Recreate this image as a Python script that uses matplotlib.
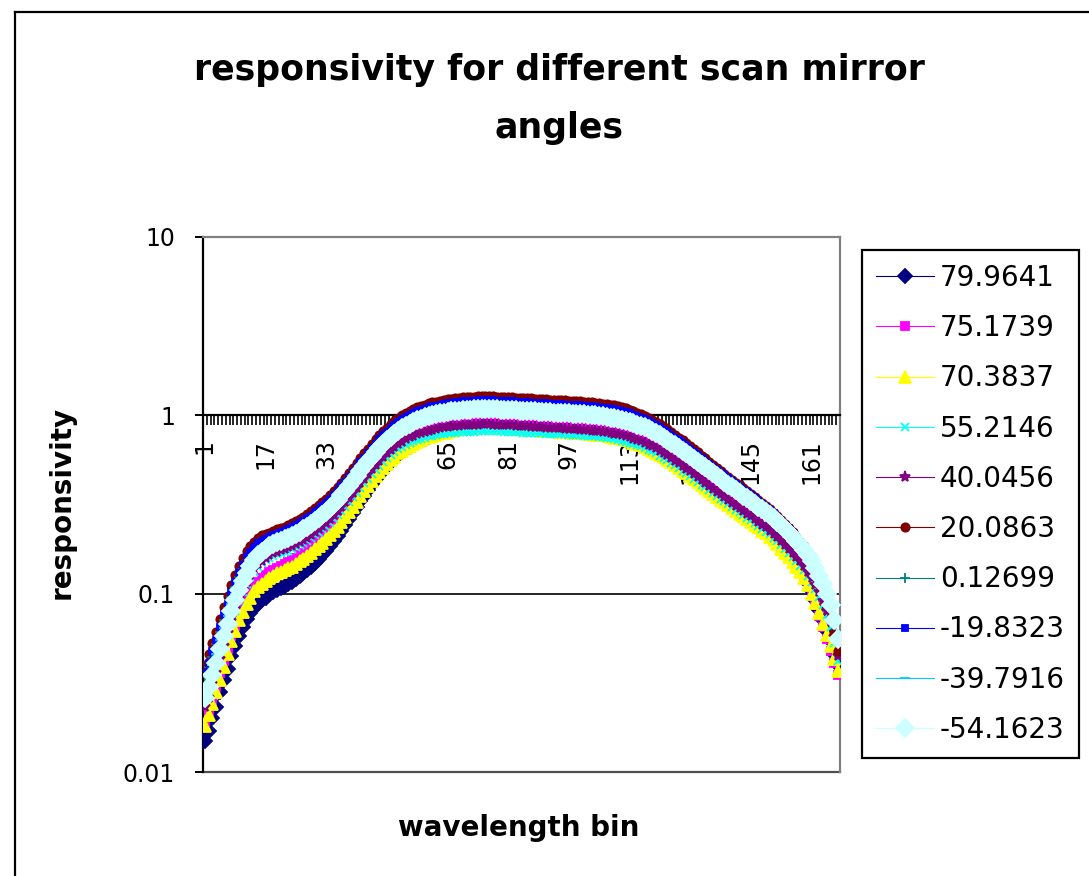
import numpy as np
import matplotlib
matplotlib.use('Agg')
import matplotlib.pyplot as plt
from matplotlib.lines import Line2D
from matplotlib.ticker import FixedLocator, NullLocator

# wavelength bins 1..168
bins = np.arange(1, 169)
tick_bins = [1, 17, 33, 49, 65, 81, 97, 113, 129, 145, 161]
ytick_vals = [0.01, 0.1, 1, 10]
ytick_labels = ['0.01', '0.1', '1', '10']

angle_labels = ['79.9641', '75.1739', '70.3837', '55.2146', '40.0456',
                '20.0863', '0.12699', '-19.8323', '-39.7916', '-54.1623']

# responsivity per scan mirror angle
resp_79 = [
    0.015, 0.017, 0.020, 0.023, 0.028, 0.033, 0.038, 0.045, 0.051, 0.058, 0.065, 0.072, 0.078, 0.083, 0.088, 0.092, 0.095, 0.099, 0.102, 0.105,
    0.108, 0.111, 0.114, 0.117, 0.121, 0.125, 0.130, 0.135, 0.141, 0.148, 0.156, 0.164, 0.174, 0.185, 0.197, 0.211, 0.226, 0.243, 0.262, 0.282,
    0.305, 0.329, 0.354, 0.381, 0.410, 0.437, 0.464, 0.492, 0.520, 0.547, 0.573, 0.599, 0.623, 0.646, 0.667, 0.687, 0.707, 0.724, 0.741, 0.757,
    0.771, 0.785, 0.798, 0.811, 0.822, 0.832, 0.843, 0.852, 0.862, 0.869, 0.872, 0.875, 0.875, 0.877, 0.878, 0.877, 0.874, 0.873, 0.871, 0.869,
    0.865, 0.863, 0.860, 0.858, 0.854, 0.852, 0.850, 0.847, 0.844, 0.841, 0.839, 0.836, 0.833, 0.831, 0.828, 0.826, 0.822, 0.820, 0.817, 0.815,
    0.811, 0.808, 0.804, 0.800, 0.795, 0.791, 0.785, 0.779, 0.770, 0.762, 0.753, 0.743, 0.732, 0.721, 0.708, 0.695, 0.681, 0.666, 0.651, 0.632,
    0.614, 0.596, 0.577, 0.558, 0.540, 0.521, 0.503, 0.485, 0.467, 0.450, 0.433, 0.417, 0.402, 0.387, 0.372, 0.359, 0.346, 0.333, 0.321, 0.310,
    0.299, 0.289, 0.278, 0.269, 0.259, 0.249, 0.241, 0.232, 0.223, 0.215, 0.204, 0.194, 0.184, 0.174, 0.164, 0.155, 0.145, 0.136, 0.127, 0.115,
    0.103, 0.092, 0.081, 0.071, 0.062, 0.054, 0.046, 0.040]
resp_75 = [
    0.019, 0.022, 0.025, 0.030, 0.036, 0.042, 0.049, 0.058, 0.066, 0.075, 0.085, 0.094, 0.102, 0.110, 0.117, 0.122, 0.127, 0.132, 0.136, 0.140,
    0.143, 0.147, 0.150, 0.154, 0.159, 0.164, 0.170, 0.176, 0.183, 0.192, 0.200, 0.209, 0.219, 0.231, 0.244, 0.259, 0.276, 0.294, 0.314, 0.336,
    0.359, 0.384, 0.411, 0.439, 0.468, 0.498, 0.530, 0.561, 0.592, 0.622, 0.652, 0.681, 0.707, 0.733, 0.757, 0.779, 0.801, 0.820, 0.839, 0.856,
    0.871, 0.886, 0.900, 0.914, 0.926, 0.937, 0.949, 0.959, 0.969, 0.976, 0.979, 0.980, 0.980, 0.981, 0.981, 0.979, 0.975, 0.972, 0.969, 0.965,
    0.961, 0.957, 0.953, 0.949, 0.944, 0.941, 0.937, 0.933, 0.929, 0.925, 0.921, 0.917, 0.913, 0.909, 0.905, 0.902, 0.897, 0.893, 0.890, 0.886,
    0.881, 0.876, 0.872, 0.866, 0.860, 0.854, 0.847, 0.839, 0.829, 0.820, 0.809, 0.797, 0.785, 0.771, 0.757, 0.742, 0.727, 0.710, 0.693, 0.672,
    0.652, 0.632, 0.611, 0.591, 0.571, 0.550, 0.530, 0.511, 0.492, 0.473, 0.455, 0.437, 0.421, 0.405, 0.389, 0.374, 0.361, 0.347, 0.334, 0.322,
    0.310, 0.299, 0.288, 0.277, 0.267, 0.257, 0.248, 0.238, 0.229, 0.220, 0.208, 0.197, 0.186, 0.175, 0.164, 0.153, 0.143, 0.133, 0.123, 0.110,
    0.098, 0.086, 0.075, 0.065, 0.056, 0.048, 0.041, 0.035]
resp_70 = [
    0.018, 0.021, 0.024, 0.028, 0.033, 0.039, 0.046, 0.054, 0.062, 0.071, 0.079, 0.088, 0.095, 0.103, 0.109, 0.114, 0.118, 0.123, 0.126, 0.130,
    0.133, 0.136, 0.139, 0.142, 0.147, 0.152, 0.157, 0.162, 0.169, 0.177, 0.184, 0.193, 0.202, 0.212, 0.224, 0.238, 0.253, 0.270, 0.287, 0.307,
    0.328, 0.351, 0.376, 0.401, 0.427, 0.454, 0.481, 0.509, 0.536, 0.562, 0.587, 0.611, 0.634, 0.656, 0.676, 0.695, 0.712, 0.728, 0.742, 0.757,
    0.769, 0.780, 0.792, 0.801, 0.811, 0.820, 0.827, 0.835, 0.841, 0.848, 0.851, 0.853, 0.854, 0.855, 0.856, 0.855, 0.853, 0.851, 0.849, 0.847,
    0.844, 0.841, 0.839, 0.837, 0.833, 0.831, 0.828, 0.826, 0.823, 0.820, 0.818, 0.816, 0.812, 0.810, 0.808, 0.805, 0.802, 0.799, 0.797, 0.795,
    0.791, 0.787, 0.784, 0.780, 0.776, 0.771, 0.765, 0.759, 0.751, 0.743, 0.734, 0.724, 0.714, 0.703, 0.690, 0.678, 0.664, 0.650, 0.634, 0.616,
    0.599, 0.581, 0.562, 0.544, 0.526, 0.508, 0.490, 0.473, 0.455, 0.439, 0.422, 0.407, 0.392, 0.377, 0.363, 0.350, 0.337, 0.325, 0.313, 0.302,
    0.291, 0.281, 0.271, 0.262, 0.252, 0.243, 0.235, 0.226, 0.218, 0.209, 0.199, 0.189, 0.179, 0.169, 0.160, 0.150, 0.141, 0.132, 0.123, 0.112,
    0.100, 0.089, 0.078, 0.068, 0.059, 0.051, 0.043, 0.037]
resp_55 = [
    0.023, 0.026, 0.031, 0.036, 0.043, 0.051, 0.059, 0.070, 0.080, 0.091, 0.102, 0.113, 0.124, 0.133, 0.142, 0.148, 0.154, 0.159, 0.163, 0.166,
    0.169, 0.172, 0.174, 0.177, 0.182, 0.187, 0.192, 0.197, 0.204, 0.212, 0.220, 0.229, 0.238, 0.249, 0.261, 0.275, 0.291, 0.308, 0.327, 0.347,
    0.369, 0.392, 0.416, 0.442, 0.468, 0.495, 0.521, 0.548, 0.573, 0.598, 0.622, 0.644, 0.664, 0.683, 0.700, 0.715, 0.729, 0.741, 0.751, 0.761,
    0.769, 0.776, 0.782, 0.788, 0.793, 0.797, 0.800, 0.802, 0.804, 0.805, 0.808, 0.811, 0.813, 0.815, 0.816, 0.815, 0.815, 0.813, 0.812, 0.811,
    0.808, 0.807, 0.805, 0.803, 0.801, 0.799, 0.797, 0.796, 0.793, 0.792, 0.790, 0.788, 0.786, 0.784, 0.782, 0.781, 0.778, 0.777, 0.775, 0.772,
    0.770, 0.767, 0.764, 0.761, 0.758, 0.754, 0.749, 0.743, 0.737, 0.729, 0.721, 0.712, 0.702, 0.693, 0.681, 0.669, 0.657, 0.643, 0.628, 0.611,
    0.594, 0.578, 0.560, 0.542, 0.525, 0.507, 0.490, 0.473, 0.456, 0.441, 0.424, 0.409, 0.395, 0.380, 0.366, 0.353, 0.341, 0.329, 0.317, 0.307,
    0.296, 0.286, 0.276, 0.267, 0.258, 0.248, 0.240, 0.231, 0.223, 0.215, 0.205, 0.197, 0.188, 0.179, 0.170, 0.161, 0.152, 0.143, 0.135, 0.125,
    0.116, 0.106, 0.096, 0.086, 0.076, 0.065, 0.053, 0.042]
resp_40 = [
    0.023, 0.026, 0.031, 0.036, 0.043, 0.051, 0.060, 0.070, 0.082, 0.093, 0.105, 0.117, 0.127, 0.137, 0.146, 0.153, 0.159, 0.164, 0.169, 0.172,
    0.175, 0.178, 0.182, 0.185, 0.190, 0.195, 0.201, 0.206, 0.214, 0.222, 0.231, 0.240, 0.250, 0.262, 0.275, 0.290, 0.307, 0.325, 0.345, 0.367,
    0.390, 0.416, 0.442, 0.469, 0.497, 0.526, 0.555, 0.584, 0.612, 0.639, 0.665, 0.690, 0.711, 0.732, 0.752, 0.769, 0.785, 0.798, 0.811, 0.822,
    0.832, 0.841, 0.848, 0.855, 0.862, 0.867, 0.872, 0.875, 0.878, 0.880, 0.883, 0.886, 0.887, 0.889, 0.890, 0.889, 0.887, 0.886, 0.884, 0.882,
    0.879, 0.877, 0.874, 0.872, 0.869, 0.867, 0.864, 0.862, 0.859, 0.857, 0.854, 0.852, 0.850, 0.847, 0.845, 0.842, 0.840, 0.837, 0.835, 0.832,
    0.829, 0.826, 0.822, 0.818, 0.814, 0.809, 0.804, 0.797, 0.790, 0.781, 0.772, 0.763, 0.752, 0.740, 0.728, 0.715, 0.701, 0.686, 0.671, 0.652,
    0.634, 0.615, 0.596, 0.577, 0.558, 0.540, 0.521, 0.503, 0.485, 0.467, 0.450, 0.434, 0.418, 0.403, 0.388, 0.374, 0.361, 0.348, 0.335, 0.324,
    0.312, 0.302, 0.291, 0.281, 0.271, 0.262, 0.253, 0.244, 0.235, 0.226, 0.216, 0.207, 0.198, 0.188, 0.179, 0.170, 0.161, 0.152, 0.143, 0.133,
    0.123, 0.112, 0.102, 0.091, 0.080, 0.069, 0.057, 0.045]
resp_20 = [
    0.040, 0.046, 0.053, 0.061, 0.072, 0.084, 0.097, 0.112, 0.127, 0.143, 0.158, 0.173, 0.186, 0.196, 0.205, 0.212, 0.215, 0.220, 0.224, 0.229,
    0.234, 0.238, 0.243, 0.248, 0.255, 0.262, 0.270, 0.278, 0.289, 0.301, 0.313, 0.326, 0.340, 0.356, 0.375, 0.396, 0.420, 0.446, 0.474, 0.505,
    0.538, 0.573, 0.611, 0.650, 0.690, 0.732, 0.773, 0.814, 0.854, 0.893, 0.931, 0.966, 0.999, 1.030, 1.058, 1.084, 1.108, 1.129, 1.148, 1.166,
    1.181, 1.195, 1.208, 1.220, 1.231, 1.240, 1.248, 1.256, 1.261, 1.266, 1.271, 1.274, 1.277, 1.279, 1.280, 1.279, 1.277, 1.274, 1.272, 1.269,
    1.265, 1.261, 1.258, 1.254, 1.251, 1.247, 1.244, 1.240, 1.237, 1.233, 1.230, 1.226, 1.222, 1.219, 1.215, 1.212, 1.208, 1.205, 1.201, 1.198,
    1.193, 1.188, 1.184, 1.178, 1.172, 1.165, 1.156, 1.147, 1.136, 1.125, 1.110, 1.093, 1.076, 1.057, 1.037, 1.016, 0.994, 0.971, 0.947, 0.918,
    0.891, 0.863, 0.835, 0.806, 0.778, 0.750, 0.723, 0.696, 0.670, 0.644, 0.619, 0.595, 0.573, 0.550, 0.529, 0.508, 0.490, 0.471, 0.453, 0.436,
    0.420, 0.405, 0.390, 0.376, 0.362, 0.348, 0.335, 0.322, 0.310, 0.297, 0.284, 0.271, 0.258, 0.246, 0.233, 0.221, 0.208, 0.196, 0.184, 0.171,
    0.155, 0.138, 0.121, 0.104, 0.088, 0.073, 0.060, 0.048]
resp_0 = [
    0.034, 0.039, 0.044, 0.052, 0.061, 0.071, 0.083, 0.096, 0.109, 0.124, 0.137, 0.151, 0.162, 0.172, 0.182, 0.187, 0.193, 0.198, 0.203, 0.208,
    0.212, 0.216, 0.220, 0.225, 0.231, 0.238, 0.245, 0.253, 0.262, 0.273, 0.284, 0.295, 0.308, 0.323, 0.340, 0.360, 0.381, 0.404, 0.430, 0.458,
    0.488, 0.520, 0.554, 0.590, 0.626, 0.663, 0.701, 0.738, 0.775, 0.810, 0.844, 0.876, 0.906, 0.934, 0.960, 0.983, 1.005, 1.024, 1.041, 1.057,
    1.071, 1.084, 1.096, 1.106, 1.116, 1.125, 1.132, 1.138, 1.144, 1.148, 1.152, 1.156, 1.158, 1.160, 1.161, 1.160, 1.158, 1.156, 1.153, 1.150,
    1.147, 1.144, 1.141, 1.137, 1.134, 1.131, 1.128, 1.125, 1.121, 1.118, 1.115, 1.112, 1.109, 1.105, 1.102, 1.099, 1.096, 1.092, 1.089, 1.086,
    1.082, 1.077, 1.073, 1.068, 1.063, 1.056, 1.049, 1.040, 1.030, 1.020, 1.008, 0.995, 0.981, 0.966, 0.950, 0.933, 0.915, 0.896, 0.875, 0.851,
    0.827, 0.803, 0.778, 0.753, 0.729, 0.704, 0.679, 0.656, 0.632, 0.610, 0.587, 0.566, 0.546, 0.525, 0.506, 0.488, 0.471, 0.454, 0.438, 0.423,
    0.408, 0.394, 0.380, 0.367, 0.354, 0.341, 0.330, 0.318, 0.306, 0.294, 0.281, 0.269, 0.256, 0.243, 0.231, 0.219, 0.206, 0.194, 0.182, 0.169,
    0.156, 0.142, 0.128, 0.115, 0.101, 0.087, 0.071, 0.056]
resp_m19 = [
    0.036, 0.041, 0.048, 0.055, 0.065, 0.077, 0.088, 0.102, 0.117, 0.131, 0.145, 0.160, 0.172, 0.182, 0.192, 0.198, 0.202, 0.207, 0.213, 0.217,
    0.222, 0.226, 0.231, 0.235, 0.242, 0.249, 0.256, 0.264, 0.274, 0.286, 0.297, 0.309, 0.323, 0.338, 0.356, 0.376, 0.399, 0.423, 0.450, 0.479,
    0.511, 0.544, 0.580, 0.617, 0.655, 0.694, 0.734, 0.773, 0.811, 0.848, 0.884, 0.917, 0.949, 0.978, 1.005, 1.029, 1.052, 1.072, 1.090, 1.107,
    1.121, 1.135, 1.147, 1.158, 1.168, 1.177, 1.185, 1.192, 1.197, 1.202, 1.206, 1.210, 1.212, 1.214, 1.215, 1.214, 1.212, 1.210, 1.207, 1.204,
    1.201, 1.197, 1.194, 1.191, 1.187, 1.184, 1.180, 1.177, 1.174, 1.170, 1.167, 1.164, 1.160, 1.157, 1.154, 1.150, 1.147, 1.144, 1.140, 1.137,
    1.132, 1.128, 1.123, 1.118, 1.112, 1.105, 1.098, 1.089, 1.079, 1.067, 1.054, 1.039, 1.024, 1.007, 0.989, 0.970, 0.950, 0.929, 0.907, 0.881,
    0.855, 0.829, 0.803, 0.776, 0.750, 0.724, 0.698, 0.673, 0.648, 0.624, 0.601, 0.578, 0.556, 0.535, 0.515, 0.496, 0.478, 0.460, 0.443, 0.428,
    0.412, 0.397, 0.383, 0.370, 0.356, 0.343, 0.331, 0.319, 0.306, 0.294, 0.282, 0.269, 0.257, 0.244, 0.232, 0.220, 0.208, 0.196, 0.184, 0.171,
    0.158, 0.144, 0.130, 0.115, 0.101, 0.086, 0.071, 0.056]
resp_m39 = [
    0.030, 0.034, 0.040, 0.046, 0.055, 0.064, 0.075, 0.088, 0.100, 0.113, 0.127, 0.140, 0.152, 0.163, 0.172, 0.179, 0.186, 0.191, 0.197, 0.201,
    0.205, 0.209, 0.213, 0.217, 0.224, 0.230, 0.237, 0.244, 0.254, 0.264, 0.274, 0.286, 0.298, 0.313, 0.329, 0.348, 0.368, 0.391, 0.416, 0.443,
    0.472, 0.503, 0.536, 0.570, 0.605, 0.642, 0.678, 0.714, 0.749, 0.783, 0.817, 0.848, 0.877, 0.904, 0.928, 0.951, 0.972, 0.990, 1.007, 1.023,
    1.036, 1.048, 1.060, 1.070, 1.080, 1.088, 1.095, 1.101, 1.106, 1.111, 1.115, 1.118, 1.120, 1.122, 1.123, 1.122, 1.120, 1.118, 1.116, 1.113,
    1.110, 1.106, 1.103, 1.100, 1.097, 1.094, 1.091, 1.088, 1.085, 1.082, 1.078, 1.075, 1.072, 1.069, 1.066, 1.063, 1.060, 1.057, 1.054, 1.051,
    1.046, 1.042, 1.038, 1.033, 1.028, 1.022, 1.014, 1.006, 0.997, 0.986, 0.975, 0.963, 0.949, 0.935, 0.919, 0.903, 0.885, 0.866, 0.847, 0.823,
    0.800, 0.776, 0.752, 0.729, 0.705, 0.681, 0.657, 0.634, 0.612, 0.590, 0.568, 0.548, 0.528, 0.508, 0.490, 0.472, 0.455, 0.439, 0.423, 0.409,
    0.394, 0.381, 0.367, 0.355, 0.343, 0.330, 0.319, 0.307, 0.296, 0.285, 0.273, 0.261, 0.249, 0.237, 0.226, 0.214, 0.202, 0.191, 0.179, 0.166,
    0.154, 0.141, 0.127, 0.114, 0.101, 0.086, 0.071, 0.056]
resp_m54 = [
    0.026, 0.030, 0.035, 0.041, 0.049, 0.058, 0.068, 0.080, 0.092, 0.105, 0.118, 0.131, 0.143, 0.154, 0.164, 0.172, 0.179, 0.185, 0.190, 0.194,
    0.198, 0.202, 0.206, 0.210, 0.216, 0.222, 0.229, 0.236, 0.245, 0.255, 0.265, 0.276, 0.288, 0.302, 0.318, 0.336, 0.356, 0.378, 0.402, 0.428,
    0.456, 0.486, 0.518, 0.551, 0.585, 0.620, 0.655, 0.690, 0.724, 0.757, 0.789, 0.819, 0.847, 0.873, 0.897, 0.919, 0.939, 0.957, 0.973, 0.988,
    1.001, 1.013, 1.024, 1.034, 1.043, 1.051, 1.058, 1.064, 1.069, 1.073, 1.077, 1.080, 1.082, 1.084, 1.085, 1.084, 1.082, 1.080, 1.078, 1.075,
    1.072, 1.069, 1.066, 1.063, 1.060, 1.057, 1.054, 1.051, 1.048, 1.045, 1.042, 1.039, 1.036, 1.033, 1.030, 1.027, 1.024, 1.021, 1.018, 1.015,
    1.011, 1.007, 1.003, 0.998, 0.993, 0.987, 0.980, 0.972, 0.963, 0.953, 0.942, 0.930, 0.917, 0.903, 0.888, 0.872, 0.855, 0.837, 0.818, 0.795,
    0.773, 0.750, 0.727, 0.704, 0.681, 0.658, 0.635, 0.613, 0.591, 0.570, 0.549, 0.529, 0.510, 0.491, 0.473, 0.456, 0.440, 0.424, 0.409, 0.395,
    0.381, 0.368, 0.355, 0.343, 0.331, 0.319, 0.308, 0.297, 0.286, 0.275, 0.264, 0.253, 0.242, 0.231, 0.220, 0.209, 0.198, 0.187, 0.176, 0.164,
    0.152, 0.139, 0.126, 0.113, 0.100, 0.086, 0.071, 0.056]

series = [resp_79, resp_75, resp_70, resp_55, resp_40,
          resp_20, resp_0, resp_m19, resp_m39, resp_m54]

# Excel-ish default series styles
colors = ['#000080', '#FF00FF', '#FFFF00', '#00FFFF', '#800080',
          '#800000', '#008080', '#0000FF', '#00CCFF', '#CCFFFF']
markers = ['D', 's', '^', 'x', '*', 'o', '+', 's', '_', 'D']
msizes = [7, 6, 8, 6, 8, 6, 7, 4, 7, 9.5]

W, H = 1089, 876
fig = plt.figure(figsize=(W / 100, H / 100), dpi=100)
fig.patch.set_facecolor('white')

# plot area in pixel coords
left, right, top, bottom = 203, 840, 237, 772
ax = fig.add_axes([left / W, 1 - bottom / H, (right - left) / W, (bottom - top) / H])

for vals, lab, c, m, ms in zip(series, angle_labels, colors, markers, msizes):
    ax.plot(bins, vals, color=c, lw=0.8, marker=m, markersize=ms,
            markeredgecolor=c, markerfacecolor=c, markeredgewidth=1.3,
            label=lab, zorder=3)

ax.set_yscale('log')
ax.set_ylim(0.01, 10)
ax.set_xlim(0.5, 168.5)

# category axis crosses at 1
ax.spines['bottom'].set_position(('data', 1))
ax.spines['bottom'].set_color('black')
ax.spines['bottom'].set_linewidth(1.6)
ax.spines['left'].set_color('black')
ax.spines['left'].set_linewidth(1.6)
for side in ['top', 'right']:
    ax.spines[side].set_color('#808080')
    ax.spines[side].set_linewidth(1.6)

ax.axhline(0.1, color='black', lw=1.2, zorder=1)
ax.axhline(0.01, color='#505050', lw=1.6, zorder=1, clip_on=False)

ax.yaxis.set_major_locator(FixedLocator(ytick_vals))
ax.yaxis.set_minor_locator(NullLocator())
ax.set_yticklabels(ytick_labels)
ax.tick_params(axis='y', which='major', direction='out', length=6, width=1.4,
               pad=14, labelsize=17)

ax.xaxis.set_major_locator(FixedLocator(tick_bins))
ax.xaxis.set_minor_locator(FixedLocator(np.arange(0.5, 169, 1)))
ax.set_xticklabels([str(b) for b in tick_bins], rotation=90)
ax.tick_params(axis='x', which='major', length=0, pad=17, labelsize=17)
ax.tick_params(axis='x', which='minor', direction='out', length=7, width=1.2)

# titles and axis labels
fig.text(559 / W, 1 - 70 / H, 'responsivity for different scan mirror',
         ha='center', va='center', fontsize=25, fontweight='bold')
fig.text(559 / W, 1 - 128 / H, 'angles',
         ha='center', va='center', fontsize=25, fontweight='bold')
fig.text(62 / W, 1 - 502 / H, 'responsivity', rotation=90,
         ha='center', va='center', fontsize=20, fontweight='bold')
fig.text(519 / W, 1 - 828 / H, 'wavelength bin',
         ha='center', va='center', fontsize=20, fontweight='bold')

leg = ax.legend(loc='upper left', bbox_to_anchor=(862 / W, 1 - 250 / H),
                bbox_transform=fig.transFigure, borderaxespad=0,
                fontsize=20, handlelength=2.1, handletextpad=0.2,
                labelspacing=0.8, borderpad=0.5, numpoints=1,
                fancybox=False, framealpha=1, edgecolor='black')
leg.get_frame().set_linewidth(1.6)

# outer chart border (cut off at the right and bottom)
fig.add_artist(Line2D([15 / W, 15 / W], [0, 1 - 12 / H], transform=fig.transFigure,
                      color='black', lw=1.6))
fig.add_artist(Line2D([15 / W, 1], [1 - 12 / H, 1 - 12 / H], transform=fig.transFigure,
                      color='black', lw=1.6))

fig.savefig('out.png', dpi=100)
